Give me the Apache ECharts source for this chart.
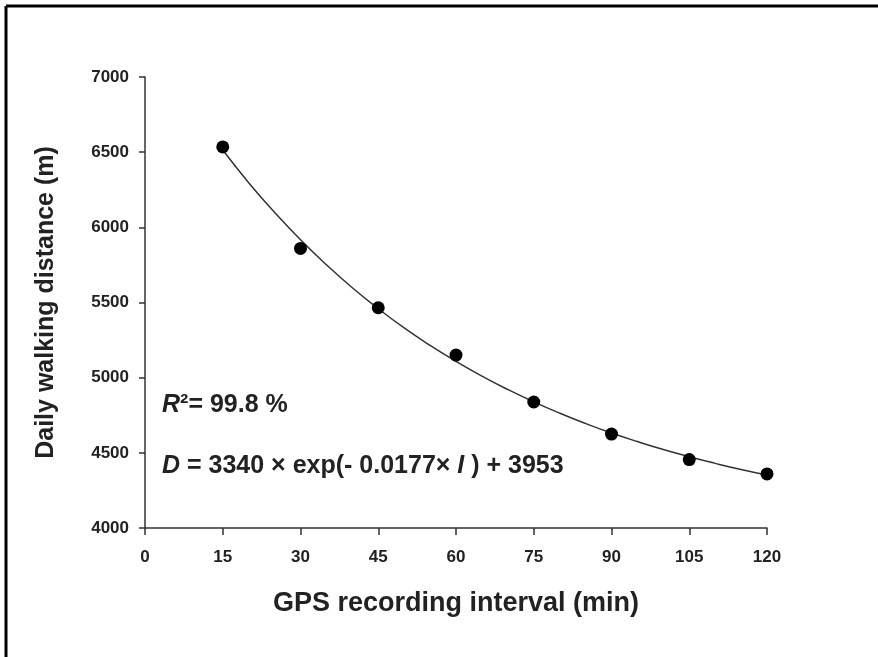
<!DOCTYPE html>
<html>
<head>
<meta charset="utf-8">
<script src="https://cdn.jsdelivr.net/npm/echarts@6/dist/echarts.min.js"></script>
<style>
html,body{margin:0;padding:0;background:#fff;}
#chart{width:878px;height:657px;}
</style>
</head>
<body>
<div id="chart"></div>
<script>
// Observed points
const intervals = [15, 30, 45, 60, 75, 90, 105, 120];
const distances = [6535, 5860, 5465, 5150, 4838, 4625, 4455, 4360];
// Fitted curve
const fitX = [15, 20, 25, 30, 35, 40, 45, 50, 55, 60, 65, 70, 75, 80, 85, 90, 95, 100, 105, 110, 115, 120];
const fitY = [6514, 6297, 6099, 5917, 5751, 5598, 5459, 5331, 5215, 5108, 5010, 4921, 4839, 4764, 4695, 4632, 4575, 4522, 4474, 4430, 4389, 4352];
const xTicks = { min: 0, max: 120, interval: 15 };
const yTicks = { min: 4000, max: 7000, interval: 500 };
const xTitle = 'GPS recording interval (min)';
const yTitle = 'Daily walking distance (m)';
const annotR = '{i|R}{n|²= 99.8 %}';
const annotD = '{i|D}{n| = 3340 × exp(- 0.0177× }{i|I}{n| ) + 3953}';

const font = '"Liberation Sans", Arial, sans-serif';
const rich = {
  i: { fontFamily: font, fontWeight: 'bold', fontStyle: 'italic', fontSize: 25, fill: '#222' },
  n: { fontFamily: font, fontWeight: 'bold', fontSize: 25, fill: '#222' }
};
const chart = echarts.init(document.getElementById('chart'));
chart.setOption({
  backgroundColor: '#ffffff',
  animation: false,
  grid: { left: 145, right: 111, top: 77, bottom: 129, containLabel: false },
  xAxis: {
    type: 'value', min: xTicks.min, max: xTicks.max, interval: xTicks.interval,
    name: xTitle, nameLocation: 'middle', nameGap: 62,
    nameTextStyle: { fontFamily: font, fontWeight: 'bold', fontSize: 27, color: '#222' },
    axisLine: { show: true, lineStyle: { color: '#333', width: 1.5 } },
    axisTick: { show: true, inside: false, length: 7, lineStyle: { color: '#333', width: 1.5 } },
    axisLabel: { margin: 21, fontFamily: font, fontWeight: 'bold', fontSize: 17, color: '#222' },
    splitLine: { show: false }
  },
  yAxis: {
    type: 'value', min: yTicks.min, max: yTicks.max, interval: yTicks.interval,
    name: yTitle, nameLocation: 'middle', nameGap: 86, nameRotate: 90,
    nameTextStyle: { fontFamily: font, fontWeight: 'bold', fontSize: 25, color: '#222' },
    axisLine: { show: true, lineStyle: { color: '#333', width: 1.5 } },
    axisTick: { show: true, inside: false, length: 6, lineStyle: { color: '#333', width: 1.5 } },
    axisLabel: { margin: 16, fontFamily: font, fontWeight: 'bold', fontSize: 17, color: '#222',
      formatter: v => String(v) },
    splitLine: { show: false }
  },
  series: [
    {
      type: 'line', data: fitX.map((x, i) => [x, fitY[i]]), smooth: true,
      showSymbol: false, lineStyle: { color: '#333', width: 1.5 }, z: 2
    },
    {
      type: 'scatter', data: intervals.map((x, i) => [x, distances[i]]),
      symbol: 'circle', symbolSize: 13, itemStyle: { color: '#000', opacity: 1 }, z: 3
    }
  ],
  graphic: [
    { type: 'line', shape: { x1: 6, y1: 6, x2: 878, y2: 6 }, style: { stroke: '#000', lineWidth: 3 } },
    { type: 'line', shape: { x1: 6, y1: 6, x2: 6, y2: 657 }, style: { stroke: '#000', lineWidth: 3 } },
    { type: 'text', x: 162, y: 405, style: { text: annotR, rich: rich, verticalAlign: 'middle' } },
    { type: 'text', x: 162, y: 466, style: { text: annotD, rich: rich, verticalAlign: 'middle' } }
  ]
});
</script>
</body>
</html>
